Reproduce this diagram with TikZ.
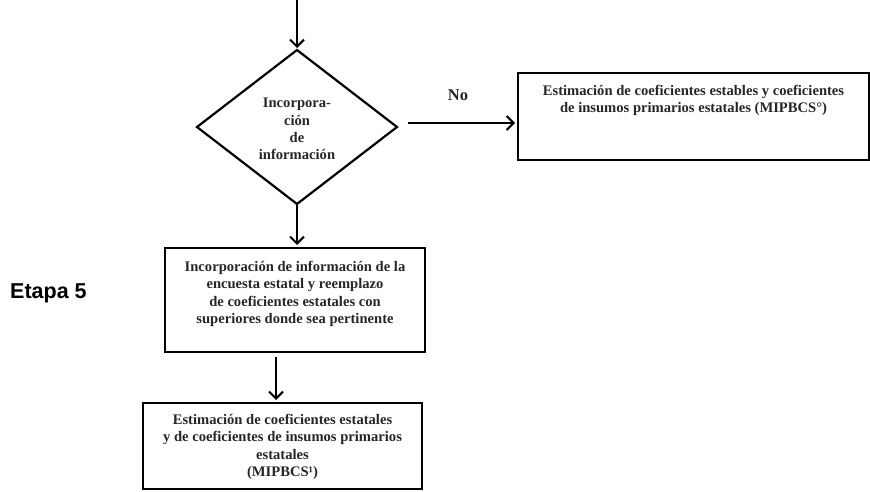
\documentclass[tikz,border=0pt]{standalone}
\usepackage{fontspec}
\setmainfont{Liberation Serif}
\newfontfamily\labelfont{Liberation Sans}
\usetikzlibrary{shapes.geometric,arrows.meta}
\tikzset{
  boxstyle/.style={draw=black, line width=2.2pt, rectangle, inner sep=0pt, outer sep=0pt},
  boxtext/.style={align=center, text=black!85, font=\bfseries\fontsize{14.6}{17.2}\selectfont, inner sep=0pt},
  arr/.style={draw=black, line width=2pt, -{Straight Barb[length=7pt,width=14pt,line width=2pt]}},
}
\begin{document}
\begin{tikzpicture}[x=1pt,y=-1pt]
\useasboundingbox (0,0) rectangle (870,492);
% decision
\node[diamond, draw=black, line width=2.2pt, minimum width=200pt, minimum height=154pt, inner sep=0pt, outer sep=0pt] (d) at (297,127) {};
\node[boxtext] (dt) at (297,129) {Incorpora-\\ción\\de\\información};
% boxes
\node[boxstyle, minimum width=351pt, minimum height=87pt] (b2) at (693.5,116.5) {};
\node[boxtext, anchor=north] (b2t) at (693.5,85) {Estimación de coeficientes estables y coeficientes\\de insumos primarios estatales (MIPBCS°)};
\node[boxstyle, minimum width=260pt, minimum height=104pt] (b3) at (295,300) {};
\node[boxtext] (b3t) at (295,294) {Incorporación de información de la\\encuesta estatal y reemplazo\\de coeficientes estatales con\\superiores donde sea pertinente};
\node[boxstyle, minimum width=279pt, minimum height=86pt] (b4) at (282.5,446) {};
\node[boxtext] (b4t) at (282.5,447) {Estimación de coeficientes estatales\\y de coeficientes de insumos primarios\\estatales\\(MIPBCS¹)};
% stage label
\node[font=\labelfont\bfseries\fontsize{21.5}{24}\selectfont, anchor=west, inner sep=0pt] (etapa) at (10,293) {Etapa 5};
% connectors
\coordinate (top) at (297,0);
\draw[arr, shorten >=2pt] (top) -- (d.north);
\draw[arr, shorten <=1pt, shorten >=3pt] (d.south) -- (d.south |- b3.north);
\coordinate (s3) at (276,352);
\draw[arr, shorten <=5pt, shorten >=3pt] (s3) -- (s3 |- b4.north);
\coordinate (s1) at (408,123);
\draw[arr, shorten >=3pt] (s1) -- (s1 -| b2.west);
\node[font=\bfseries\fontsize{16.5}{18}\selectfont, text=black!85, inner sep=0pt] (no) at (458,95) {No};
\end{tikzpicture}
\end{document}
